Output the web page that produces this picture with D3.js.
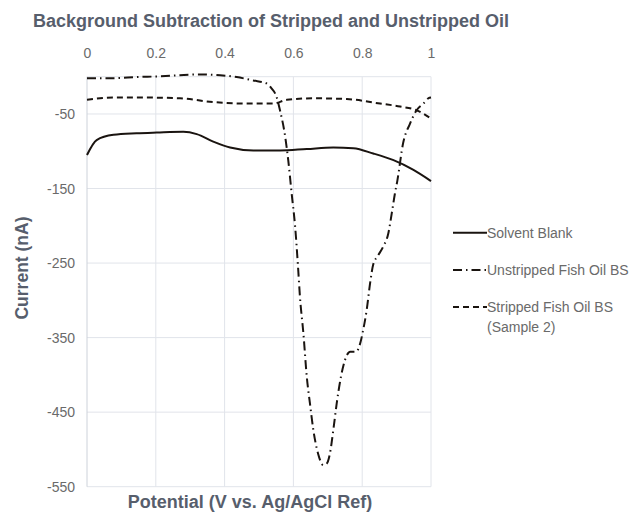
<!DOCTYPE html>
<html>
<head>
<meta charset="utf-8">
<script src="https://cdn.jsdelivr.net/npm/d3@7"></script>
<style>
html,body{margin:0;padding:0;background:#fff;}
svg{display:block;font-family:"Liberation Sans",Arial,sans-serif;}
</style>
</head>
<body>
<svg id="chart" width="632" height="513"></svg>
<script>
// ---- data ----
const xTicks = [0, 0.2, 0.4, 0.6, 0.8, 1];
const yTicks = [-50, -150, -250, -350, -450, -550];

const blankX = [0, 0.028, 0.077, 0.144, 0.203, 0.280, 0.319, 0.367, 0.416, 0.484, 0.561, 0.639, 0.716, 0.774, 0.832, 0.891, 0.949, 1.0];
const blankY = [-105, -85, -78, -76, -75, -74, -77, -87, -95, -99, -99, -97, -95, -96, -103, -112, -125, -140];

const unstrippedX = [0, 0.077, 0.144, 0.212, 0.270, 0.328, 0.387, 0.435, 0.483, 0.522, 0.537, 0.551, 0.561, 0.576, 0.585, 0.595, 0.605, 0.614, 0.619, 0.629, 0.639, 0.648, 0.658, 0.672, 0.687, 0.697, 0.706, 0.716, 0.726, 0.738, 0.750, 0.765, 0.782, 0.794, 0.801, 0.813, 0.823, 0.832, 0.846, 0.861, 0.876, 0.886, 0.895, 0.902, 0.919, 0.939, 0.958, 0.978, 0.992, 1.0];
const unstrippedY = [-2, -2, -0.5, 0.5, 2, 3, 2, -0.5, -5, -9, -16, -27, -45, -80, -112, -157, -201, -259, -295, -344, -403, -438, -474, -506, -521, -519, -506, -474, -438, -403, -380, -369, -369, -358, -344, -313, -277, -252, -240, -228, -210, -183, -157, -140, -89, -63, -45, -36, -29, -28];

const strippedX = [0, 0.077, 0.174, 0.270, 0.367, 0.464, 0.542, 0.581, 0.658, 0.755, 0.852, 0.910, 0.958, 1.0];
const strippedY = [-31, -28, -28, -29, -34, -36, -36, -31, -29, -30, -36, -40, -45, -56];

const seriesNames = ["Solvent Blank", "Unstripped Fish Oil BS", "Stripped Fish Oil BS"];

// ---- chart ----
const svg = d3.select("#chart");
const plot = {left: 87, right: 431, top: 76.7, bottom: 486.7};

const x = d3.scaleLinear().domain([0, 1]).range([plot.left, plot.right]);
const y = d3.scaleLinear().domain([-550, 0]).range([plot.bottom, plot.top]);

const textCol = "#575e6c";
const tickCol = "#6a6a6a";
const gridCol = "#e1e4ea";
const font = "Liberation Sans, Arial, sans-serif";

// gridlines
const g = svg.append("g");
g.selectAll("line.vg").data(xTicks.slice(1)).join("line")
  .attr("x1", d => x(d)).attr("x2", d => x(d))
  .attr("y1", plot.top).attr("y2", plot.bottom)
  .attr("stroke", gridCol).attr("stroke-width", 1);
g.selectAll("line.hg").data(yTicks.concat([0])).join("line")
  .attr("x1", plot.left).attr("x2", plot.right)
  .attr("y1", d => y(d)).attr("y2", d => y(d))
  .attr("stroke", gridCol).attr("stroke-width", 1);
// left axis line
g.append("line").attr("x1", x(0)).attr("x2", x(0)).attr("y1", plot.top).attr("y2", plot.bottom)
  .attr("stroke", "#cdd2da").attr("stroke-width", 1);

// axes tick labels via d3 axes
const fmt = d => String(d);
const xAxis = d3.axisTop(x).tickValues(xTicks).tickFormat(fmt).tickSize(0).tickPadding(0);
const xa = svg.append("g").attr("transform", `translate(0,${plot.top - 19})`).call(xAxis);
xa.select(".domain").remove();
xa.selectAll("text").attr("fill", tickCol).attr("font-size", 14).attr("font-family", font).attr("dy", 0);

const yAxis = d3.axisLeft(y).tickValues(yTicks).tickFormat(fmt).tickSize(0).tickPadding(0);
const ya = svg.append("g").attr("transform", `translate(${plot.left - 12},0)`).call(yAxis);
ya.select(".domain").remove();
ya.selectAll("text").attr("fill", tickCol).attr("font-size", 14).attr("font-family", font);

// series
const line = d3.line().x(d => x(d[0])).y(d => y(d[1])).curve(d3.curveMonotoneX);
const styles = [
  {dash: null},
  {dash: "9,4,1.5,4"},
  {dash: "6,4"}
];
const series = [
  d3.zip(blankX, blankY),
  d3.zip(unstrippedX, unstrippedY),
  d3.zip(strippedX, strippedY)
];
series.forEach((s, i) => {
  svg.append("path").datum(s)
    .attr("d", line)
    .attr("fill", "none").attr("stroke", "#1a1410")
    .attr("stroke-width", 2)
    .attr("stroke-dasharray", styles[i].dash)
    .attr("stroke-linejoin", "round");
});

// titles
svg.append("text").attr("x", 33).attr("y", 27)
  .attr("font-size", 18).attr("font-weight", "bold").attr("fill", textCol)
  .text("Background Subtraction of Stripped and Unstripped Oil");

svg.append("text").attr("x", 250).attr("y", 508).attr("text-anchor", "middle")
  .attr("font-size", 18).attr("font-weight", "bold").attr("fill", textCol)
  .text("Potential (V vs. Ag/AgCl Ref)");

svg.append("text").attr("transform", "translate(28,268) rotate(-90)").attr("text-anchor", "middle")
  .attr("font-size", 17.5).attr("font-weight", "bold").attr("fill", textCol)
  .text("Current (nA)");

// legend
const legY = [232.7, 270, 307];
const leg = svg.append("g");
seriesNames.forEach((name, i) => {
  leg.append("line").attr("x1", 453).attr("x2", 487).attr("y1", legY[i]).attr("y2", legY[i])
    .attr("stroke", "#1a1410").attr("stroke-width", 2)
    .attr("stroke-dasharray", styles[i].dash);
  leg.append("text").attr("x", 487).attr("y", legY[i] + 5)
    .attr("font-size", 14).attr("fill", tickCol).text(name);
});
leg.append("text").attr("x", 487).attr("y", 326.7 + 5)
  .attr("font-size", 14).attr("fill", tickCol).text("(Sample 2)");
</script>
</body>
</html>
